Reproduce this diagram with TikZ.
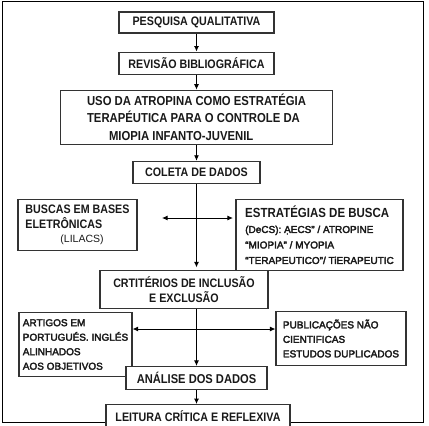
\documentclass[tikz,border=0pt]{standalone}
\usepackage{fontspec}
\setmainfont{Liberation Sans}
\newfontfamily\medfont{Liberation Sans}[FakeBold=3]
\newfontfamily\hdfont{Liberation Sans}[FakeStretch=0.87]
\usepackage{tikz}
\usetikzlibrary{arrows.meta,positioning}

\begin{document}
\begin{tikzpicture}[
  x=1pt, y=1pt,
  node distance=15pt,
  font=\hdfont\bfseries\fontsize{12.3}{13}\selectfont,
  box/.style={draw=black!80, fill=white, line width=1.1pt, align=center, inner sep=2pt, text=black!90},
  sidebox/.style={box, align=left, font=\medfont\fontsize{10}{14.5}\selectfont},
  arrow/.style={-{Latex[length=5.5pt,width=5pt]}, line width=0.9pt},
  biarrow/.style={{Latex[length=5.5pt,width=5pt]}-{Latex[length=5.5pt,width=5pt]}, line width=0.9pt}
]
\useasboundingbox (0,0) rectangle (429,-426);
\draw[line width=1.1pt] (2.5,-1.5) rectangle (423.5,-422.5);

\node[box, minimum width=155pt, minimum height=21pt] (pesq) at (196.5,-22.5) {PESQUISA QUALITATIVA};
\node[box, minimum width=155pt, minimum height=22pt, below=18pt of pesq] (rev) {REVISÃO BIBLIOGRÁFICA};
\node[box, align=left, minimum width=272pt, minimum height=54pt, below=of rev, font=\hdfont\bfseries\fontsize{13}{17.5}\selectfont] (uso) {USO DA ATROPINA COMO ESTRATÉGIA\\TERAPÉUTICA PARA O CONTROLE DA\\\hspace*{22pt}MIOPIA INFANTO-JUVENIL};
\node[box, minimum width=127pt, minimum height=22pt, below=16pt of uso] (coleta) {COLETA DE DADOS};

\node[box, align=left, minimum width=119pt, minimum height=51pt, below=of coleta, xshift=-119pt, font=\hdfont\bfseries\fontsize{12.3}{14.5}\selectfont] (buscas) {BUSCAS EM BASES\\ELETRÔNICAS\\\hspace*{35pt}{\rmfamily\mdseries\fontsize{10.5}{14.5}\selectfont(LILACS)}};
\node[box, align=left, minimum width=167pt, minimum height=71pt, below=of coleta, xshift=123pt, font=\medfont\fontsize{10}{15.5}\selectfont] (estr) {{\hdfont\bfseries\fontsize{13.2}{15.5}\selectfont ESTRATÉGIAS DE BUSCA}\\(DeCS): ẠECS” / ATROPINE\\“MIOPIA” / MYOPIA\\“TERAPEUTICO”/ TiERAPEUTIC};

\node[box, minimum width=168pt, minimum height=38pt, below=86pt of coleta, xshift=-12.5pt, font=\hdfont\bfseries\fontsize{12.3}{15}\selectfont] (crt) {CRTITÉRIOS DE INCLUSÃO\\E EXCLUSÃO};
\node[sidebox, minimum width=113pt, minimum height=64pt, below=3pt of crt, xshift=-108.5pt] (artigos) {ARTIGOS EM\\PORTUGUÉS. INGLÉS\\ALINHADOS\\AOS OBJETIVOS};
\node[sidebox, minimum width=130pt, minimum height=54pt, below=2pt of crt, xshift=157pt] (pub) {PUBLICAÇÕES NÃO\\CIENTIFICAS\\ESTUDOS DUPLICADOS};

\node[box, minimum width=141pt, minimum height=23pt, below=57pt of crt, xshift=12.5pt, font=\hdfont\bfseries\fontsize{12.8}{13}\selectfont] (analise) {ANÁLISE DOS DADOS};
\node[box, minimum width=184pt, minimum height=24pt, below=14pt of analise, xshift=1.5pt] (leitura) {LEITURA CRÍTICA E REFLEXIVA};

\coordinate (lvlA) at (162,-218);
\coordinate (lvlB) at (0,-329);

\draw[arrow] (pesq) -- (rev);
\draw[arrow] (rev) -- (uso);
\draw[arrow] (uso) -- (coleta);
\draw[arrow, shorten >=2.5pt] (coleta.south) -- (coleta.south |- crt.north);
\draw[biarrow, shorten >=2.5pt] (lvlA) -- (lvlA -| estr.west);
\draw[arrow] (crt.south -| coleta.south) -- (analise.north -| coleta.south);
\draw[biarrow] (artigos.east |- lvlB) -- (pub.west |- lvlB);
\draw[arrow] (analise.south) -- (analise.south |- leitura.north);
\end{tikzpicture}
\end{document}
